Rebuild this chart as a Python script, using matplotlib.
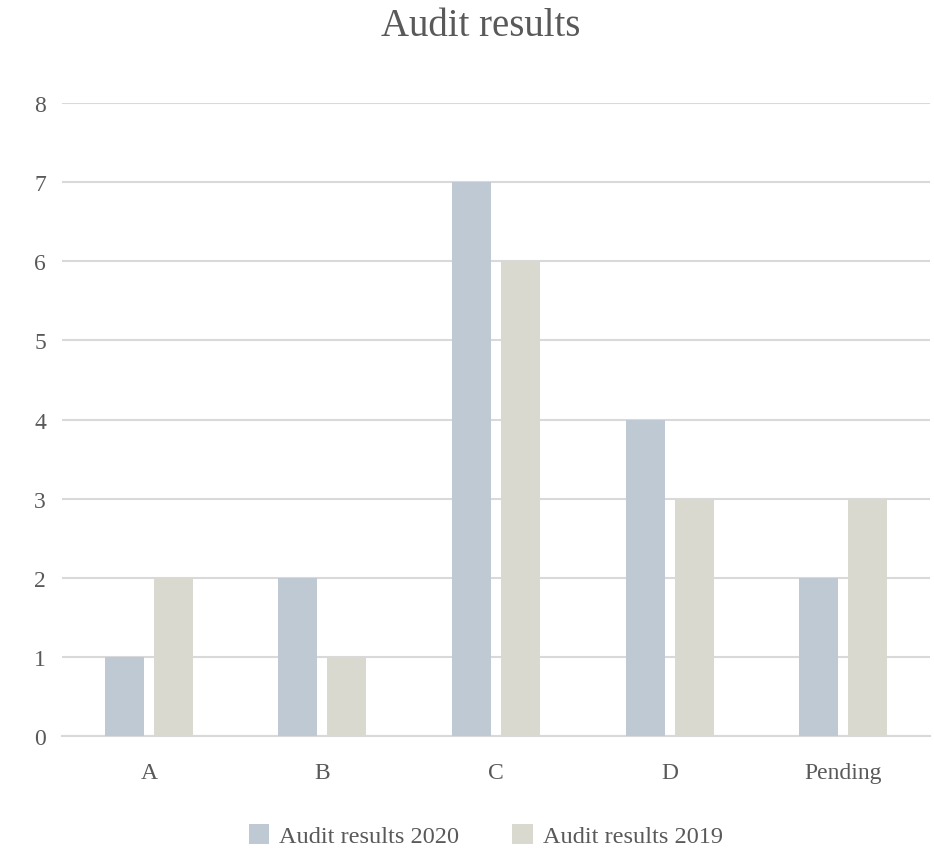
import numpy as np
import matplotlib
matplotlib.use('Agg')
import matplotlib.pyplot as plt

categories = ['A', 'B', 'C', 'D', 'Pending']
results_2020 = [1, 2, 7, 4, 2]
results_2019 = [2, 1, 6, 3, 3]
labels = ['Audit results 2020', 'Audit results 2019']

plt.rcParams['font.family'] = ['Liberation Serif', 'DejaVu Serif']
text_color = '#595959'

fig = plt.figure(figsize=(9.34, 8.53), dpi=100)
ax = fig.add_axes([0.0664, 0.136, 0.9293, 0.742])

x = np.arange(len(categories))
w = 0.225
ax.bar(x - 0.141, results_2020, w, color='#bfc9d4', label=labels[0], zorder=3)
ax.bar(x + 0.141, results_2019, w, color='#d9d9d0', label=labels[1], zorder=3)

ax.set_xlim(-0.5, len(categories) - 0.5)
ax.set_ylim(0, 8)
ax.set_yticks(range(9))
ax.yaxis.grid(True, color='#d9d9d9', lw=1.5, zorder=0)
ax.set_xticks(x)
ax.set_xticklabels(categories)
ax.tick_params(length=0, labelsize=17, colors=text_color)
ax.tick_params(axis='x', pad=19)
ax.tick_params(axis='y', pad=20)
for lbl in ax.get_yticklabels():
    lbl.set_horizontalalignment('left')
for s in ['top', 'right', 'left']:
    ax.spines[s].set_visible(False)
ax.spines['bottom'].set_color('#d9d9d9')
ax.spines['bottom'].set_linewidth(1.5)

fig.text(0.515, 0.969, 'Audit results', ha='center', va='center',
         fontsize=28, color=text_color)
fig.legend(loc='center', bbox_to_anchor=(0.52, 0.019), ncol=2, frameon=False,
           fontsize=17.5, handlelength=0.85, handleheight=0.85, columnspacing=2.2,
           handletextpad=0.4, labelcolor=text_color)

fig.savefig('out.png', dpi=100)
